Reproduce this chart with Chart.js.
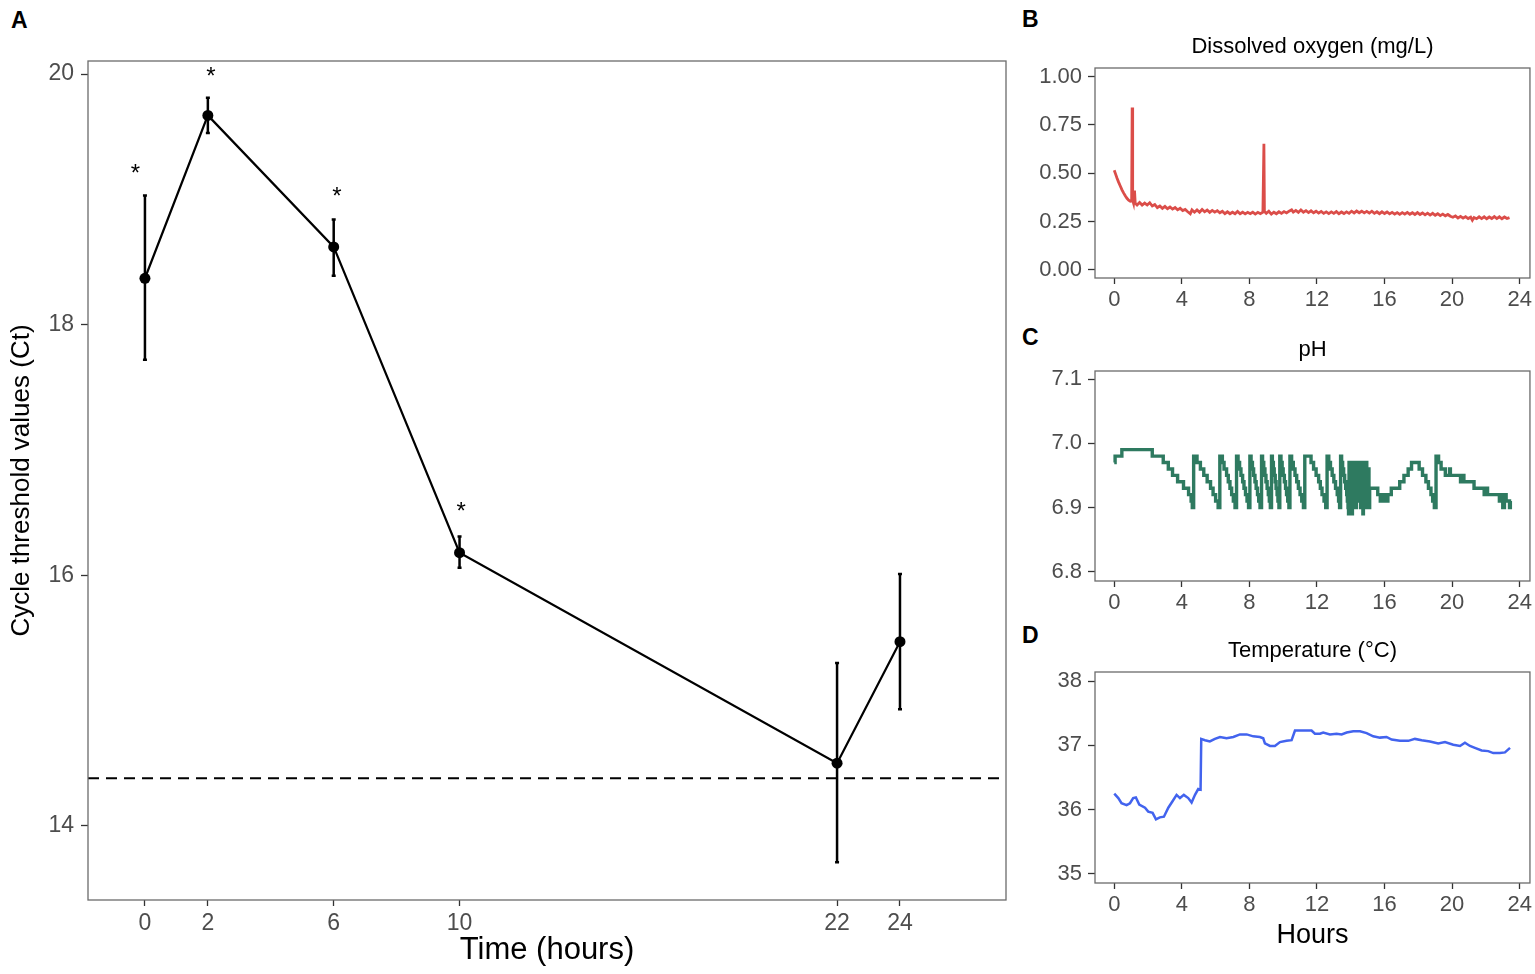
<!DOCTYPE html>
<html>
<head>
<meta charset="utf-8">
<script src="https://cdn.jsdelivr.net/npm/chart.js@4.4.1/dist/chart.umd.min.js"></script>
<style>
  body { margin: 0; background: #fff; width: 1535px; height: 974px; position: relative; overflow: hidden; font-family: "Liberation Sans", Arial, sans-serif; }
  canvas { position: absolute; }
  .tag { position: absolute; font-weight: bold; font-size: 23px; line-height: 1; color: #000; }
</style>
</head>
<body>
<div class="tag" style="left:11px;top:9px">A</div>
<div class="tag" style="left:1022px;top:8px">B</div>
<div class="tag" style="left:1022px;top:326px">C</div>
<div class="tag" style="left:1022px;top:624px">D</div>

<canvas id="ctChart" width="1020" height="974" style="left:0;top:0"></canvas>
<canvas id="doChart" width="505" height="320" style="left:1030px;top:0"></canvas>
<canvas id="phChart" width="505" height="300" style="left:1030px;top:320px"></canvas>
<canvas id="tempChart" width="505" height="354" style="left:1030px;top:620px"></canvas>

<script>
// Panel A – Ct values over time
const hours = [0, 2, 6, 10, 22, 24];
const ctMean = [18.37, 19.67, 18.62, 16.18, 14.50, 15.47];
const ctHigh = [19.03, 19.81, 18.84, 16.31, 15.30, 16.01];
const ctLow = [17.72, 19.53, 18.39, 16.06, 13.71, 14.93];
const starHours = [-0.3, 2.1, 6.1, 10.05];
const starCt = [19.25, 20.02, 19.06, 16.55];
const detectionLimit = 14.38;
const hourTicks = [0, 2, 6, 10, 22, 24];
const ctTicks = [14, 16, 18, 20];

// Panels B-D – bioreactor sensors
const sensorTicks = [0, 4, 8, 12, 16, 20, 24];
const doTicks = [0, 0.25, 0.5, 0.75, 1.0];
const phTicks = [6.8, 6.9, 7.0, 7.1];
const tempTicks = [35, 36, 37, 38];

const doHours = [0, 0.08, 0.16, 0.25, 0.35, 0.45, 0.55, 0.65, 0.75, 0.85, 0.95, 1.03, 1.06, 1.09, 1.14, 1.2, 1.24, 1.35, 1.5, 1.65,
  1.8, 1.95, 2.1, 2.25, 2.4, 2.55, 2.7, 2.85, 3.0, 3.15, 3.3, 3.45, 3.6, 3.75, 3.9, 4.05, 4.2, 4.35, 4.5, 4.6,
  4.75, 4.9, 5.05, 5.2, 5.35, 5.5, 5.65, 5.8, 5.95, 6.1, 6.25, 6.4, 6.55, 6.7, 6.85, 7.0, 7.15, 7.3, 7.45, 7.6,
  7.75, 7.9, 8.05, 8.2, 8.35, 8.5, 8.65, 8.8, 8.86, 8.89, 9.0, 9.15, 9.3, 9.45, 9.6, 9.75, 9.9, 10.05, 10.2, 10.35,
  10.5, 10.6, 10.75, 10.9, 11.05, 11.2, 11.35, 11.5, 11.65, 11.8, 11.95, 12.1, 12.25, 12.4, 12.55, 12.7, 12.85, 13.0, 13.15, 13.3,
  13.45, 13.6, 13.75, 13.9, 14.05, 14.2, 14.35, 14.5, 14.65, 14.8, 14.95, 15.1, 15.25, 15.4, 15.55, 15.7, 15.85, 16.0, 16.15, 16.3,
  16.45, 16.6, 16.75, 16.9, 17.05, 17.2, 17.35, 17.5, 17.65, 17.8, 17.95, 18.1, 18.25, 18.4, 18.55, 18.7, 18.85, 19.0, 19.15, 19.3,
  19.45, 19.6, 19.75, 19.9, 20.05, 20.2, 20.35, 20.5, 20.65, 20.8, 20.95, 21.1, 21.2, 21.3, 21.45, 21.6, 21.75, 21.9, 22.05, 22.2,
  22.35, 22.5, 22.65, 22.8, 22.95, 23.1, 23.25, 23.4];
const doLevel = [0.515, 0.495, 0.475, 0.455, 0.435, 0.415, 0.398, 0.383, 0.37, 0.36, 0.355, 0.356, 0.84, 0.36, 0.345, 0.41, 0.345, 0.335, 0.348, 0.335,
  0.345, 0.335, 0.347, 0.33, 0.338, 0.322, 0.33, 0.318, 0.328, 0.316, 0.325, 0.314, 0.322, 0.31, 0.318, 0.306, 0.312, 0.30, 0.29, 0.31,
  0.298, 0.31, 0.298, 0.312, 0.30, 0.309, 0.297, 0.307, 0.298, 0.306, 0.295, 0.303, 0.29, 0.30, 0.29, 0.298, 0.29, 0.302, 0.29, 0.298,
  0.289, 0.297, 0.29, 0.298, 0.288, 0.297, 0.29, 0.298, 0.652, 0.302, 0.292, 0.303, 0.288, 0.298, 0.29, 0.30, 0.292, 0.301, 0.294, 0.303,
  0.31, 0.298, 0.307, 0.297, 0.31, 0.298, 0.306, 0.296, 0.305, 0.295, 0.303, 0.293, 0.302, 0.292, 0.30, 0.291, 0.30, 0.292, 0.301, 0.29,
  0.299, 0.291, 0.30, 0.292, 0.303, 0.294, 0.304, 0.295, 0.303, 0.294, 0.302, 0.293, 0.303, 0.292, 0.30, 0.29, 0.30, 0.291, 0.299, 0.289,
  0.297, 0.288, 0.296, 0.287, 0.296, 0.288, 0.297, 0.287, 0.295, 0.286, 0.296, 0.286, 0.294, 0.284, 0.293, 0.283, 0.292, 0.282, 0.29, 0.28,
  0.288, 0.279, 0.286, 0.277, 0.272, 0.279, 0.268, 0.276, 0.267, 0.275, 0.265, 0.272, 0.256, 0.27, 0.264, 0.274, 0.265, 0.274, 0.264, 0.273,
  0.265, 0.275, 0.265, 0.274, 0.264, 0.273, 0.265, 0.27];

const phHours = [0, 0.05, 0.45, 2.25, 2.9, 3.2, 3.45, 3.75, 4.1, 4.4, 4.55, 4.62, 4.7,
  4.9, 5.1, 5.3, 5.5, 5.7, 5.85, 6.0, 6.15, 6.25,
  6.4, 6.5, 6.65, 6.75, 6.85, 6.95, 7.05, 7.15, 7.24,
  7.33, 7.42, 7.5, 7.6, 7.68, 7.77, 7.86, 7.95, 8.03,
  8.1, 8.18, 8.25, 8.33, 8.4, 8.48, 8.55, 8.63, 8.72,
  8.78, 8.85, 8.92, 8.98, 9.05, 9.12, 9.18, 9.24, 9.31,
  9.36, 9.42, 9.47, 9.53, 9.58, 9.64, 9.69, 9.75, 9.8,
  9.87, 9.94, 10.0, 10.07, 10.14, 10.2, 10.27, 10.34, 10.4,
  10.5, 10.6, 10.7, 10.8, 10.9, 11.0, 11.1, 11.2, 11.28,
  11.65, 11.8, 11.95, 12.1, 12.2, 12.3, 12.42, 12.52, 12.6,
  12.7, 12.8, 12.9, 13.0, 13.1, 13.2, 13.28, 13.34, 13.4,
  13.46, 13.52, 13.58, 13.64, 13.7, 13.76, 13.8, 13.84, 13.87, 13.9,
  14.0, 14.08, 14.1, 14.2, 14.3, 14.33, 14.42, 14.5, 14.58, 14.66, 14.72, 14.75, 14.85, 14.88, 14.95, 15.0, 15.08, 15.12,
  15.6, 15.75, 15.9, 16.05, 16.2, 16.4, 16.9, 17.15, 17.4, 17.6, 18.05, 18.25, 18.45, 18.6, 18.75, 18.85, 18.95, 19.05,
  19.2, 19.35, 19.6, 19.85, 19.9, 20.5, 20.6, 20.7, 21.3, 21.9, 22.0, 22.1, 22.8, 22.9, 23.0, 23.1, 23.2, 23.4, 23.45];
const phLevel = [6.97, 6.98, 6.99, 6.98, 6.97, 6.96, 6.95, 6.94, 6.93, 6.92, 6.91, 6.90, 6.98,
  6.97, 6.96, 6.95, 6.94, 6.93, 6.92, 6.91, 6.90, 6.98,
  6.97, 6.96, 6.95, 6.94, 6.93, 6.92, 6.91, 6.90, 6.98,
  6.97, 6.96, 6.95, 6.94, 6.93, 6.92, 6.91, 6.90, 6.98,
  6.97, 6.96, 6.95, 6.94, 6.93, 6.92, 6.91, 6.90, 6.98,
  6.97, 6.96, 6.95, 6.94, 6.93, 6.92, 6.91, 6.90, 6.98,
  6.97, 6.96, 6.95, 6.94, 6.93, 6.92, 6.91, 6.90, 6.98,
  6.97, 6.96, 6.95, 6.94, 6.93, 6.92, 6.91, 6.90, 6.98,
  6.97, 6.96, 6.95, 6.94, 6.93, 6.92, 6.91, 6.90, 6.98,
  6.97, 6.96, 6.95, 6.94, 6.93, 6.92, 6.91, 6.90, 6.98,
  6.97, 6.96, 6.95, 6.94, 6.93, 6.92, 6.91, 6.90, 6.98,
  6.97, 6.96, 6.95, 6.94, 6.93, 6.92, 6.91, 6.90, 6.89, 6.97,
  6.93, 6.89, 6.97, 6.92, 6.90, 6.97, 6.91, 6.97, 6.90, 6.97, 6.89, 6.97, 6.90, 6.97, 6.90, 6.96, 6.90, 6.93,
  6.92, 6.91, 6.92, 6.91, 6.92, 6.93, 6.94, 6.95, 6.96, 6.97, 6.96, 6.95, 6.94, 6.93, 6.92, 6.91, 6.90, 6.98,
  6.97, 6.96, 6.95, 6.96, 6.95, 6.94, 6.95, 6.94, 6.93, 6.92, 6.93, 6.92, 6.91, 6.92, 6.90, 6.92, 6.91, 6.90, 6.91];

const tempHours = [0, 0.24, 0.43, 0.73, 0.93, 1.12, 1.28, 1.48, 1.82, 2.01, 2.27, 2.47, 2.7, 2.94, 3.2, 3.45, 3.69, 3.89, 4.12, 4.38,
  4.58, 4.78, 4.97, 5.11, 5.15, 5.37, 5.66, 5.96, 6.26, 6.65, 7.05, 7.44, 7.84, 8.23, 8.62, 8.82, 8.92, 9.22, 9.51, 9.81,
  10.2, 10.5, 10.7, 11.19, 11.68, 11.88, 12.18, 12.37, 12.77, 13.16, 13.46, 13.76, 14.15, 14.55, 14.94, 15.33, 15.73, 16.12, 16.42, 16.91,
  17.41, 17.8, 18.2, 18.69, 19.18, 19.58, 20.07, 20.47, 20.76, 21.06, 21.35, 21.75, 22.14, 22.44, 22.83, 23.13, 23.43];
const tempLevel = [36.25, 36.18, 36.10, 36.07, 36.10, 36.18, 36.19, 36.08, 36.03, 35.97, 35.95, 35.85, 35.88, 35.89, 36.03, 36.13, 36.23, 36.18, 36.23, 36.18,
  36.11, 36.23, 36.32, 36.31, 37.10, 37.08, 37.06, 37.10, 37.13, 37.11, 37.13, 37.17, 37.17, 37.14, 37.13, 37.11, 37.03, 36.99, 36.99, 37.05,
  37.07, 37.08, 37.23, 37.23, 37.23, 37.18, 37.18, 37.20, 37.17, 37.18, 37.17, 37.20, 37.22, 37.22, 37.19, 37.14, 37.12, 37.13, 37.09, 37.07,
  37.07, 37.10, 37.08, 37.06, 37.03, 37.05, 37.01, 36.99, 37.04, 36.99, 36.96, 36.92, 36.91, 36.88, 36.88, 36.89, 36.96];

const family = '"Liberation Sans", Arial, sans-serif';
Chart.defaults.font.family = family;

// caixa em volta da área do gráfico
const frameBox = {
  id: 'frameBox',
  afterDraw(chart) {
    const { ctx, chartArea: a } = chart;
    ctx.save();
    ctx.strokeStyle = '#6b6b6b';
    ctx.lineWidth = 1.3;
    ctx.strokeRect(a.left, a.top, a.right - a.left, a.bottom - a.top);
    ctx.restore();
  }
};

// título centrado na área do gráfico (como no ggplot)
const panelTitle = {
  id: 'panelTitle',
  afterDraw(chart, args, opts) {
    const { ctx, chartArea: a } = chart;
    ctx.save();
    ctx.fillStyle = '#000';
    ctx.font = '22px ' + family;
    ctx.textAlign = 'center';
    ctx.textBaseline = 'middle';
    ctx.fillText(opts.text, (a.left + a.right) / 2, a.top - opts.gap);
    ctx.restore();
  }
};

// barras de erro, linha tracejada e asteriscos do painel A
const ctExtras = {
  id: 'ctExtras',
  beforeDatasetsDraw(chart) {
    const { ctx, chartArea: a, scales: { x, y } } = chart;
    ctx.save();
    const yl = y.getPixelForValue(detectionLimit);
    ctx.strokeStyle = '#000';
    ctx.lineWidth = 2;
    ctx.setLineDash([11, 7]);
    ctx.beginPath();
    ctx.moveTo(a.left, yl);
    ctx.lineTo(a.right, yl);
    ctx.stroke();
    ctx.setLineDash([]);
    ctx.lineWidth = 2.5;
    hours.forEach((h, i) => {
      const px = x.getPixelForValue(h);
      const top = y.getPixelForValue(ctHigh[i]);
      const bot = y.getPixelForValue(ctLow[i]);
      ctx.beginPath();
      ctx.moveTo(px, top); ctx.lineTo(px, bot);
      ctx.moveTo(px - 2, top); ctx.lineTo(px + 2, top);
      ctx.moveTo(px - 2, bot); ctx.lineTo(px + 2, bot);
      ctx.stroke();
    });
    ctx.fillStyle = '#000';
    ctx.font = '24px ' + family;
    ctx.textAlign = 'center';
    ctx.textBaseline = 'middle';
    starHours.forEach((h, i) => {
      ctx.fillText('*', x.getPixelForValue(h), y.getPixelForValue(starCt[i]) + 6);
    });
    ctx.restore();
  }
};

function tickSetter(values) {
  return s => { s.ticks = values.map(v => ({ value: v })); };
}

new Chart(document.getElementById('ctChart'), {
  type: 'line',
  data: {
    datasets: [{
      data: hours.map((h, i) => ({ x: h, y: ctMean[i] })),
      borderColor: '#000',
      borderWidth: 2.2,
      pointRadius: 5.5,
      pointBackgroundColor: '#000',
      pointBorderWidth: 0,
      tension: 0
    }]
  },
  options: {
    responsive: false,
    devicePixelRatio: 1,
    animation: false,
    layout: { padding: { top: 61, right: 14, left: 0, bottom: 0 } },
    plugins: { legend: { display: false }, tooltip: { enabled: false } },
    scales: {
      x: {
        type: 'linear', min: -1.81, max: 27.37,
        afterBuildTicks: tickSetter(hourTicks),
        afterFit: s => { s.height = 74; },
        grid: { drawOnChartArea: false, drawTicks: true, tickLength: 6, tickColor: '#333', tickWidth: 1.3 },
        border: { display: false },
        ticks: { color: '#4d4d4d', font: { size: 23 }, padding: 4, maxRotation: 0, autoSkip: false },
        title: { display: true, text: 'Time (hours)', color: '#000', font: { size: 31 }, padding: { top: 0, bottom: 5 } }
      },
      y: {
        type: 'linear', min: 13.408, max: 20.104,
        afterBuildTicks: tickSetter(ctTicks),
        afterFit: s => { s.width = 88; },
        grid: { drawOnChartArea: false, drawTicks: true, tickLength: 7, tickColor: '#333', tickWidth: 1.3 },
        border: { display: false },
        ticks: { color: '#4d4d4d', font: { size: 23 }, padding: 7 },
        title: { display: true, text: 'Cycle threshold values (Ct)', color: '#000', font: { size: 26 }, padding: { top: 6, bottom: 0 } }
      }
    }
  },
  plugins: [ctExtras, frameBox]
});

function sensorChart(id, cfg) {
  return new Chart(document.getElementById(id), {
    type: 'line',
    data: {
      datasets: [{
        data: cfg.hours.map((h, i) => ({ x: h, y: cfg.values[i] })),
        borderColor: cfg.color,
        borderWidth: cfg.width,
        pointRadius: 0,
        stepped: cfg.stepped || false,
        tension: 0
      }]
    },
    options: {
      responsive: false,
      devicePixelRatio: 1,
      animation: false,
      layout: { padding: { top: cfg.top, right: 5, left: 0, bottom: 0 } },
      plugins: {
        legend: { display: false },
        tooltip: { enabled: false },
        panelTitle: { text: cfg.title, gap: 21 }
      },
      scales: {
        x: {
          type: 'linear', min: -1.14, max: 24.61,
          afterBuildTicks: tickSetter(sensorTicks),
          afterFit: s => { s.height = cfg.xHeight; },
          grid: { drawOnChartArea: false, drawTicks: true, tickLength: 6, tickColor: '#333', tickWidth: 1.3 },
          border: { display: false },
          ticks: { color: '#4d4d4d', font: { size: 22 }, padding: 3, maxRotation: 0, autoSkip: false },
          title: cfg.xTitle
            ? { display: true, text: cfg.xTitle, color: '#000', font: { size: 27 }, padding: { top: 0, bottom: 22 } }
            : { display: false }
        },
        y: {
          type: 'linear', min: cfg.min, max: cfg.max,
          afterBuildTicks: tickSetter(cfg.ticks),
          afterFit: s => { s.width = 65; },
          grid: { drawOnChartArea: false, drawTicks: true, tickLength: 7, tickColor: '#333', tickWidth: 1.3 },
          border: { display: false },
          ticks: { color: '#4d4d4d', font: { size: 22 }, padding: 6, callback: v => v.toFixed(cfg.digits) }
        }
      }
    },
    plugins: [frameBox, panelTitle]
  });
}

sensorChart('doChart', {
  hours: doHours, values: doLevel, color: '#db4d49', width: 2.8,
  title: 'Dissolved oxygen (mg/L)', top: 68,
  min: -0.043, max: 1.045, ticks: doTicks, digits: 2, xHeight: 42
});

sensorChart('phChart', {
  hours: phHours, values: phLevel, color: '#2e7a60', width: 3.4, stepped: true,
  title: 'pH', top: 51,
  min: 6.7855, max: 7.1125, ticks: phTicks, digits: 1, xHeight: 39
});

sensorChart('tempChart', {
  hours: tempHours, values: tempLevel, color: '#4263ee', width: 2.5,
  title: 'Temperature (°C)', top: 52,
  min: 34.86, max: 38.14, ticks: tempTicks, digits: 0, xHeight: 91, xTitle: 'Hours'
});
</script>
</body>
</html>
